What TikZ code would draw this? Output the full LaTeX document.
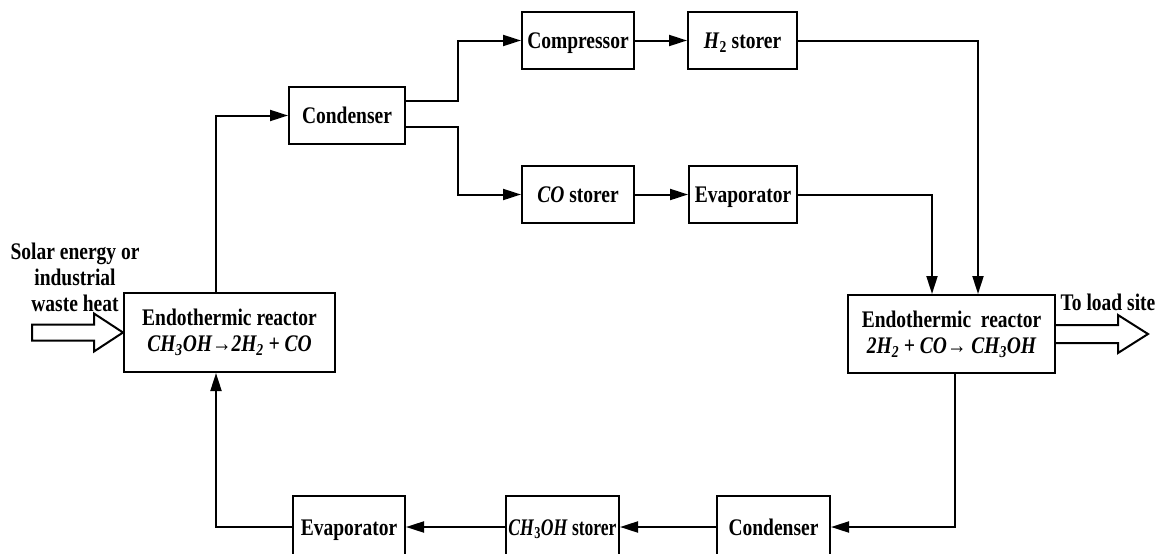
\documentclass[tikz,border=0pt]{standalone}
\usepackage{fontspec}
\usepackage{graphicx}
\setmainfont{Liberation Serif}
\usetikzlibrary{arrows.meta}
\newcommand{\tall}[1]{\scalebox{1}[1.22]{#1}}
\begin{document}
\begin{tikzpicture}[x=1pt,y=-1pt]

    \tikzset{
      box/.style={
        draw,
        line width=2pt,
        inner sep=0pt,
        minimum height=57pt,
        align=center,
        font=\fontsize{19.5}{26}\selectfont\bfseries,
      },
      oneline/.style={
        box,
        text height=16pt,
        text depth=0pt,
      },
      flow/.style={
        line width=2pt,
        -{Triangle[length=18pt,width=11pt]},
      },
      blockarrow/.style={
        line width=2pt,
        fill=white,
        line join=miter,
      },
      label/.style={
        align=center,
        inner sep=0pt,
        font=\fontsize{19.5}{26}\selectfont\bfseries,
      },
    }
    \useasboundingbox (0,0) rectangle (1162,554);
    \clip (0,0) rectangle (1162,554);

	% upper branch
	\node[oneline,minimum width=116pt] (cond1) at (347,115.5) {\tall{Condenser}};
	\node[oneline,minimum width=112pt] (comp) at (578,40.5) {\tall{Compressor}};
	\node[oneline,minimum width=109pt] (htwo) at (742.5,40.5) {\tall{\textit{H}\textsubscript{2} storer}};
	\node[oneline,minimum width=112pt] (costore) at (578,194.5) {\tall{\textit{CO} storer}};
	\node[oneline,minimum width=108pt] (evap1) at (743,194.5) {\tall{Evaporator}};

	% reactors
	\node[box,minimum width=211pt,minimum height=79pt] (reacL) at (229.5,332.5)
	  {\tall{Endothermic reactor}\\ \tall{\itshape CH\textsubscript{3}OH→2H\textsubscript{2} + CO}};
	\node[box,minimum width=207pt,minimum height=78pt] (reacR) at (951.5,334)
	  {\tall{Endothermic\ \ reactor}\\ \tall{\itshape 2H\textsubscript{2} + CO→ CH\textsubscript{3}OH}};

	% lower branch
	\node[oneline,minimum width=112pt,minimum height=62pt] (evap2) at (349,527) {\tall{Evaporator}};
	\node[oneline,minimum width=113pt,minimum height=62pt] (ch3oh) at (562.5,527) {\scalebox{0.9}[1.22]{\textit{CH}\textsubscript{3}\textit{OH} storer}};
	\node[oneline,minimum width=113pt,minimum height=62pt] (cond2) at (773.5,527) {\tall{Condenser}};

	% connectors
	\draw[flow] ([xshift=-13.5pt]reacL.north) |- (cond1.west);
	\draw[flow] ([yshift=14.5pt]cond1.east) -- ++(52,0) |- (comp.west);
	\draw[flow] ([yshift=-11.5pt]cond1.east) -- ++(52,0) |- (costore.west);
	\draw[flow] (comp.east) -- (htwo.west);
	\draw[flow] (costore.east) -- (evap1.west);
	\draw[flow] (htwo.east) -| ([xshift=26.5pt]reacR.north);
	\draw[flow] (evap1.east) -| ([xshift=-19.5pt]reacR.north);
	\draw[flow] ([xshift=3.5pt]reacR.south) |- (cond2.east);
	\draw[flow] (cond2.west) -- (ch3oh.east);
	\draw[flow] (ch3oh.west) -- (evap2.east);
	\draw[flow] (evap2.west) -| ([xshift=-13.5pt]reacL.south);

	% heat in and product out
	\draw[blockarrow] (reacL.west) -- ++(-29,-19) -- ++(0,11) -- ++(-62,0) -- ++(0,16) -- ++(62,0) -- ++(0,11) -- cycle;
	\draw[blockarrow] ([yshift=9pt]reacR.east) -- ++(62,0) -- ++(0,-10) -- ++(30,19) -- ++(-30,19) -- ++(0,-10) -- ++(-62,0);

	\node[label] (heat) at (75,277) {\tall{Solar energy or}\\\tall{industrial}\\\tall{waste heat}};
	\node[label] (load) at (1108,302) {\tall{To load site}};

\end{tikzpicture}
\end{document}
